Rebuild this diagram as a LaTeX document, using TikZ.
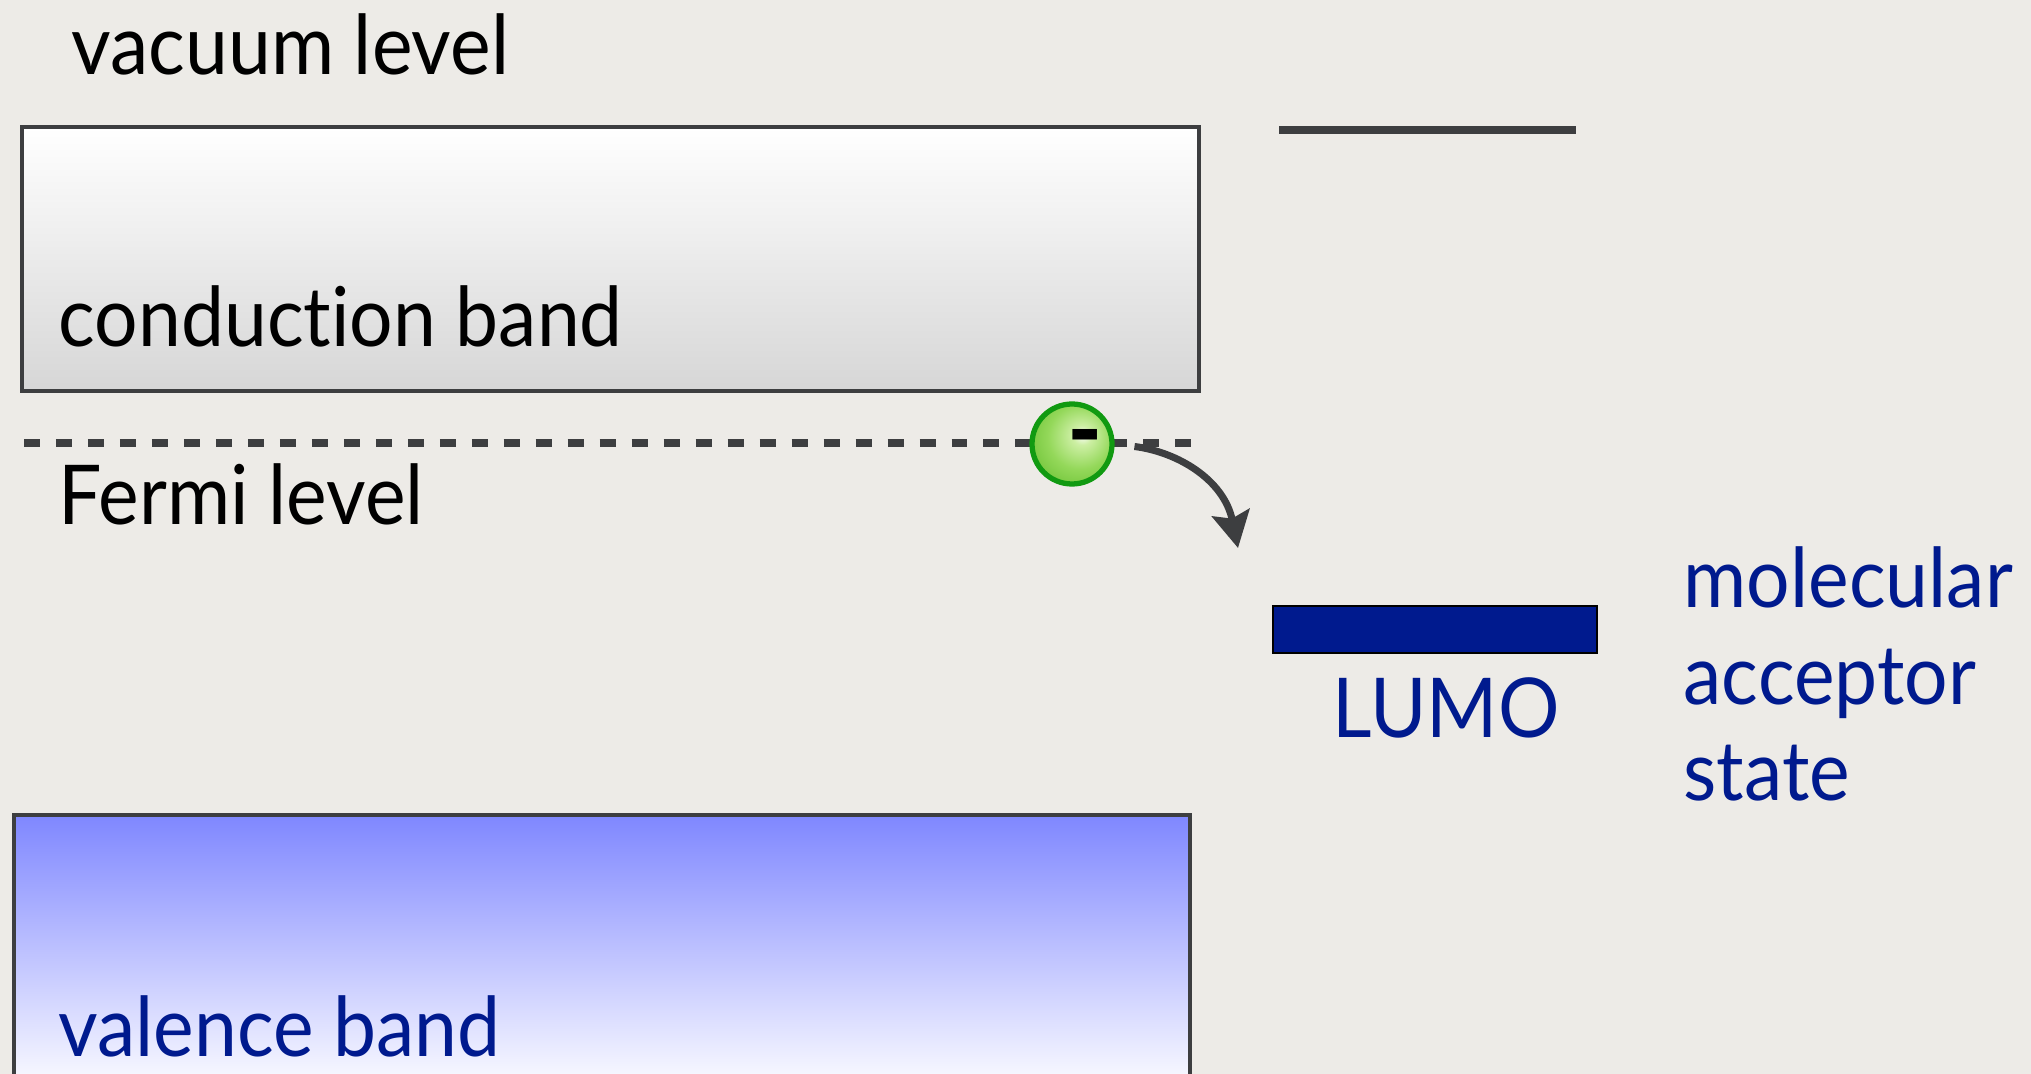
\documentclass[tikz,border=0pt]{standalone}
\usepackage{fontspec}
\setmainfont{Lato}[FakeStretch=0.93, Ligatures=NoCommon]
\usetikzlibrary{arrows.meta}

\definecolor{paper}{HTML}{EDEBE7}
\definecolor{edge}{HTML}{3D3E40}
\definecolor{navy}{HTML}{001A8E}
\definecolor{bandblue}{HTML}{7F87FF}
\definecolor{egreen}{HTML}{119A11}
\definecolor{elight}{HTML}{CDEFA4}
\definecolor{emid}{HTML}{94D85A}
\definecolor{edark}{HTML}{5EBA28}

% ball shading, bright spot to the upper right
\pgfdeclareradialshading{eshade}{\pgfpoint{7bp}{6bp}}{%
  color(0bp)=(white); color(6bp)=(elight); color(20bp)=(emid); color(40bp)=(edark); color(70bp)=(edark)}

\tikzset{
  txt/.style={inner sep=0pt, font=\fontsize{23.5}{27.5}\selectfont},
  band/.style={rectangle, draw=edge, line width=1.4pt, inner sep=0pt},
  electron/.style={circle, draw=egreen, line width=1.5pt, minimum size=8mm, inner sep=0pt, shading=eshade},
  hop/.style={draw=edge, line width=2pt, -{Stealth[length=3.6mm,width=3.8mm,inset=0.6mm]}}
}

\begin{document}
\begin{tikzpicture}[x=0.1mm, y=-0.1mm]

    \clip (0,0) rectangle (2031,1074);
    \fill[paper] (0,0) rectangle (2031,1074);

    % bands of the solid
    \node[band, minimum width=117.7mm, minimum height=26.4mm, top color=white, bottom color=black!16] (cband) at (610.5,259) {};
    \node[band, minimum width=117.6mm, minimum height=28mm, top color=bandblue, bottom color=white] (vband) at (602,955) {};

    \node[txt, anchor=base west] (vaclabel) at (71,75) {vacuum level};
    \node[txt, anchor=base west] (cbandlabel) at (58,347) {conduction band};
    \node[txt, anchor=base west] (fermilabel) at (58,525) {Fermi level};
    \node[txt, anchor=base west, text=navy] (vbandlabel) at (58,1056) {valence band};

    % Fermi level and vacuum level of the molecule
    \draw[edge, line width=2pt, dash pattern=on 4.55pt off 4.55pt] (24,443) -- (1192,443);
    \draw[edge, line width=2pt] (1279,130) -- (1576,130);

    % molecular level
    \node[rectangle, draw=black, line width=0.6pt, fill=navy, minimum width=32.4mm, minimum height=4.7mm] (lumo) at (1435,629.5) {};
    \node[txt, anchor=base, text=navy] (lumolabel) at (1446,738) {LUMO};
    \node[txt, anchor=base west, align=left, text=navy] (molabel) at (1683,801) {molecular\\acceptor\\state};

    % electron hopping over
    \node[electron] (e) at (1072,444) {};
    \node[txt, anchor=base, font=\fontsize{29}{29}\selectfont\bfseries] (charge) at (1085,466) {-};
    \coordinate (drop) at (1238,548);
    \draw[hop, shorten <=2mm] (e.east) .. controls (1178,452) and (1224,480) .. (drop);

\end{tikzpicture}
\end{document}
